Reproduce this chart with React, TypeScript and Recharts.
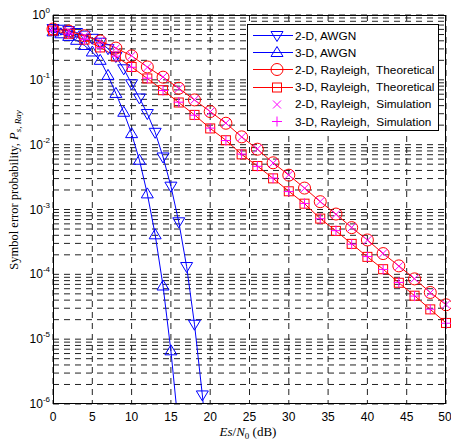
import React from 'react';
import { LineChart, Line, XAxis, YAxis, CartesianGrid } from 'recharts';

// Es/N0 (dB) sample points
const awgnSnr2D = [0, 1, 2, 3, 4, 5, 6, 7, 8, 9, 10, 11, 12, 13, 14, 15, 16, 17, 18, 19, 20];
const awgnSnr3D = [0, 1, 2, 3, 4, 5, 6, 7, 8, 9, 10, 11, 12, 13, 14, 15, 16];
const raySnr = [0, 2, 4, 6, 8, 10, 12, 14, 16, 18, 20, 22, 24, 26, 28, 30, 32, 34, 36, 38, 40, 42, 44, 46, 48, 50];

// symbol error probability
const awgn2D = [0.617, 0.603, 0.575, 0.537, 0.49, 0.437, 0.38, 0.302, 0.229, 0.148, 0.0871, 0.0525, 0.0302, 0.0155, 0.00646, 0.00229, 6.46e-4, 1.32e-4, 1.7e-5, 1.38e-6, 7.9e-8];
const awgn3D = [0.55, 0.513, 0.468, 0.407, 0.339, 0.269, 0.2, 0.117, 0.0617, 0.0316, 0.0148, 0.00575, 0.00174, 4.07e-4, 6.61e-5, 6.61e-6, 3.98e-7];
const ray2DTheory = [0.608, 0.566, 0.479, 0.398, 0.309, 0.234, 0.158, 0.11, 0.0741, 0.049, 0.0324, 0.0214, 0.0132, 0.00851, 0.00525, 0.00339, 0.00214, 0.00132, 8.51e-4, 5.25e-4, 3.39e-4, 2.09e-4, 1.35e-4, 8.51e-5, 5.25e-5, 3.39e-5];
const ray3DTheory = [0.575, 0.513, 0.417, 0.316, 0.229, 0.158, 0.105, 0.0692, 0.0447, 0.0288, 0.0178, 0.0117, 0.00708, 0.00468, 0.00302, 0.00191, 0.00123, 7.24e-4, 4.68e-4, 2.95e-4, 1.86e-4, 1.2e-4, 7.41e-5, 4.68e-5, 2.88e-5, 1.78e-5];
const ray2DSim = [0.6, 0.57, 0.475, 0.402, 0.306, 0.236, 0.156, 0.111, 0.0735, 0.0494, 0.0321, 0.0216, 0.0131, 0.0086, 0.0052, 0.00342, 0.00212, 0.00133, 8.4e-4, 5.3e-4, 3.35e-4, 2.11e-4, 1.33e-4, 8.6e-5, 5.2e-5, 3.42e-5];
const ray3DSim = [0.58, 0.508, 0.42, 0.312, 0.232, 0.156, 0.106, 0.0685, 0.0452, 0.0285, 0.018, 0.0116, 0.00715, 0.00463, 0.00305, 0.00189, 0.00124, 7.2e-4, 4.72e-4, 2.92e-4, 1.88e-4, 1.19e-4, 7.5e-5, 4.62e-5, 2.9e-5, 1.76e-5];

const xTicks = [0, 5, 10, 15, 20, 25, 30, 35, 40, 45, 50];
const yDecades = [1e-6, 1e-5, 1e-4, 1e-3, 1e-2, 1e-1, 1];
const yMinorSteps = [1, 2, 3, 4, 5, 6, 7, 8, 9];

const yTicks = yDecades
  .slice(0, -1)
  .flatMap((d) => yMinorSteps.map((m) => d * m))
  .concat([1]);

const toPoints = (xs: number[], ys: number[]) => xs.map((x, i) => ({ x, y: ys[i] }));

const BLUE = '#0000ff';
const RED = '#ff0000';
const MAGENTA = '#ff00ff';

type Kind = 'down' | 'up' | 'circle' | 'square' | 'cross' | 'plus';

function marker(kind: Kind, cx: number, cy: number, color: string, key?: string) {
  const common = { fill: 'none', stroke: color, strokeWidth: 1 };
  switch (kind) {
    case 'down':
      return <path key={key} d={`M${cx - 6},${cy - 4} L${cx + 6},${cy - 4} L${cx},${cy + 6} Z`} {...common} />;
    case 'up':
      return <path key={key} d={`M${cx - 6},${cy + 4} L${cx + 6},${cy + 4} L${cx},${cy - 6} Z`} {...common} />;
    case 'circle':
      return <circle key={key} cx={cx} cy={cy} r={6} {...common} />;
    case 'square':
      return <rect key={key} x={cx - 4.5} y={cy - 4.5} width={9} height={9} {...common} />;
    case 'cross':
      return <path key={key} d={`M${cx - 4},${cy - 4} L${cx + 4},${cy + 4} M${cx - 4},${cy + 4} L${cx + 4},${cy - 4}`} {...common} />;
    default:
      return <path key={key} d={`M${cx - 5},${cy} L${cx + 5},${cy} M${cx},${cy - 5} L${cx},${cy + 5}`} {...common} />;
  }
}

const dotOf = (kind: Kind, color: string) => (props: any) => {
  const { cx, cy, index } = props;
  if (cx == null || cy == null || !isFinite(cx) || !isFinite(cy)) return <g key={`e-${kind}-${index}`} />;
  return marker(kind, cx, cy, color, `${kind}-${index}`);
};

function YTick(props: any) {
  const { x, y, payload } = props;
  const e = Math.log10(payload.value);
  const r = Math.round(e);
  if (Math.abs(e - r) > 1e-6) return <g />;
  return (
    <text x={x + 5} y={y + 4} textAnchor="end" fontSize={12} fontFamily="'Liberation Sans', Arial, sans-serif" fill="#000">
      <tspan>10</tspan>
      <tspan dy={-6} fontSize={8}>{r}</tspan>
    </text>
  );
}

const legendItems: { label: string; kind: Kind; color: string; line: boolean }[] = [
  { label: '2-D, AWGN', kind: 'down', color: BLUE, line: true },
  { label: '3-D, AWGN', kind: 'up', color: BLUE, line: true },
  { label: '2-D, Rayleigh,  Theoretical', kind: 'circle', color: RED, line: true },
  { label: '3-D, Rayleigh,  Theoretical', kind: 'square', color: RED, line: true },
  { label: '2-D, Rayleigh,  Simulation', kind: 'cross', color: MAGENTA, line: false },
  { label: '3-D, Rayleigh,  Simulation', kind: 'plus', color: MAGENTA, line: false },
];

const serif = "'Times New Roman', 'Liberation Serif', serif";

export default function App() {
  return (
    <div style={{ position: 'absolute', left: 0, top: 0, width: 451, height: 441, background: '#fff' }}>
      <LineChart width={451} height={441} margin={{ top: 15, right: 5, bottom: 0, left: 0 }}>
        <CartesianGrid stroke="#222" strokeDasharray="6 5" strokeWidth={1} />
        <XAxis
          dataKey="x"
          type="number"
          domain={[0, 50]}
          ticks={xTicks}
          tickLine={false}
          axisLine={false}
          height={37}
          tick={{ fontSize: 12, fill: '#000', fontFamily: "'Liberation Sans', Arial, sans-serif" }}
          allowDuplicatedCategory={false}
        />
        <YAxis
          dataKey="y"
          type="number"
          scale="log"
          domain={[1e-6, 1]}
          ticks={yTicks}
          allowDataOverflow
          interval={0}
          tickLine={false}
          axisLine={false}
          width={53}
          tick={<YTick />}
        />
        <Line data={toPoints(awgnSnr2D, awgn2D)} dataKey="y" stroke={BLUE} strokeWidth={1} dot={dotOf('down', BLUE)} isAnimationActive={false} />
        <Line data={toPoints(awgnSnr3D, awgn3D)} dataKey="y" stroke={BLUE} strokeWidth={1} dot={dotOf('up', BLUE)} isAnimationActive={false} />
        <Line data={toPoints(raySnr, ray2DTheory)} dataKey="y" stroke={RED} strokeWidth={1} dot={dotOf('circle', RED)} isAnimationActive={false} />
        <Line data={toPoints(raySnr, ray3DTheory)} dataKey="y" stroke={RED} strokeWidth={1} dot={dotOf('square', RED)} isAnimationActive={false} />
        <Line data={toPoints(raySnr, ray2DSim)} dataKey="y" stroke="none" dot={dotOf('cross', MAGENTA)} isAnimationActive={false} />
        <Line data={toPoints(raySnr, ray3DSim)} dataKey="y" stroke="none" dot={dotOf('plus', MAGENTA)} isAnimationActive={false} />
      </LineChart>

      {/* plot box */}
      <div style={{ position: 'absolute', left: 53, top: 15, width: 393, height: 389, border: '1px solid #000', boxSizing: 'border-box', pointerEvents: 'none' }} />

      {/* axis titles */}
      <svg width={451} height={441} style={{ position: 'absolute', left: 0, top: 0, pointerEvents: 'none' }}>
        <text x={18} y={190} transform="rotate(-90, 18, 190)" textAnchor="middle" fontFamily={serif} fontSize={12.5} fill="#000">
          Symbol error probability, <tspan fontStyle="italic">P</tspan>
          <tspan fontStyle="italic" fontSize={9} dy={3}>s, Ray</tspan>
        </text>
        <text x={248} y={436} textAnchor="middle" fontFamily={serif} fontSize={13} fill="#000">
          <tspan fontStyle="italic">Es</tspan>/<tspan fontStyle="italic">N</tspan>
          <tspan fontSize={9} dy={3}>0</tspan>
          <tspan dy={-3}> (dB)</tspan>
        </text>
      </svg>

      {/* legend */}
      <div
        style={{
          position: 'absolute',
          left: 247,
          top: 24,
          width: 192,
          height: 107,
          border: '1px solid #000',
          background: '#fff',
          boxSizing: 'border-box',
          paddingTop: 2,
          fontFamily: "'Liberation Sans', Arial, sans-serif",
          fontSize: 11.8,
        }}
      >
        {legendItems.map((it) => (
          <div key={it.label} style={{ display: 'flex', alignItems: 'center', height: 17.2 }}>
            <svg width={47} height={17} style={{ flex: 'none' }}>
              {it.line && <line x1={5} y1={8.5} x2={45} y2={8.5} stroke={it.color} strokeWidth={1} />}
              {marker(it.kind, 29, 8.5, it.color)}
            </svg>
            <span style={{ whiteSpace: 'pre' }}>{it.label}</span>
          </div>
        ))}
      </div>
    </div>
  );
}
